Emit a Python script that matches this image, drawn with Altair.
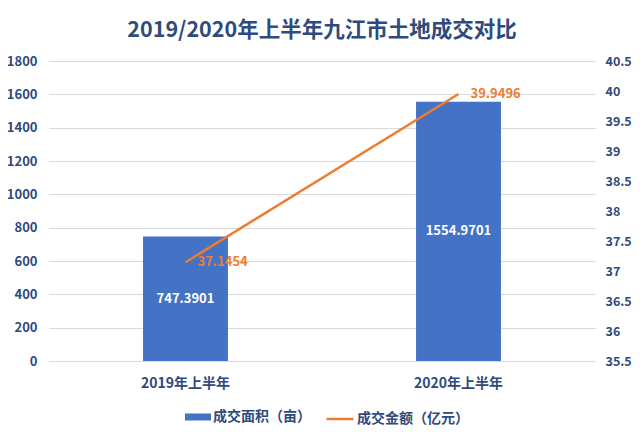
import altair as alt
import pandas as pd

title_text = "2019/2020年上半年九江市土地成交对比"
periods = ["2019年上半年", "2020年上半年"]
area_values = [747.3901, 1554.9701]
amount_values = [37.1454, 39.9496]
area_label = "成交面积（亩）"
amount_label = "成交金额（亿元）"
left_ticks = [0, 200, 400, 600, 800, 1000, 1200, 1400, 1600, 1800]
right_ticks = [35.5, 36, 36.5, 37, 37.5, 38, 38.5, 39, 39.5, 40, 40.5]

df = pd.DataFrame({
    "period": periods,
    "area": area_values,
    "amount": amount_values,
    "area_name": [area_label] * len(periods),
    "amount_name": [amount_label] * len(periods),
})

FONT = "Noto Sans CJK SC"
NAVY = "#2F4A7C"
BLUE = "#4472C4"
ORANGE = "#ED7D31"

x = alt.X(
    "period:N", sort=periods, title=None,
    scale=alt.Scale(paddingInner=0.689, paddingOuter=0.3445),
    axis=alt.Axis(labelAngle=0, labelFontSize=14, labelFontWeight="bold",
                  labelColor=NAVY, labelPadding=15, domain=False, ticks=False,
                  labelFont=FONT),
)

y_left_scale = alt.Scale(domain=[0, 1800], nice=False)
y_right_scale = alt.Scale(domain=[35.5, 40.5], nice=False)

left_axis = alt.Axis(values=left_ticks, tickCount=30, format="d", grid=True,
                     gridColor="#D9D9D9", domain=False, ticks=False,
                     labelPadding=12, labelFontSize=13,
                     labelFontWeight="bold", labelColor=NAVY,
                     labelFont=FONT, labelOverlap=False, labelBound=False)
right_axis = alt.Axis(orient="right", values=right_ticks, tickCount=30,
                      format="~g", grid=False, domain=False, ticks=False,
                      labelPadding=10, labelFontSize=12.5,
                      labelFontWeight="bold", labelColor=NAVY,
                      labelFont=FONT, labelOverlap=False, labelBound=False)

bars = alt.Chart(df).mark_bar(color=BLUE).encode(
    x=x,
    y=alt.Y("area:Q", scale=y_left_scale, title=None, axis=left_axis),
    color=alt.Color("area_name:N", scale=alt.Scale(range=[BLUE]),
                    legend=alt.Legend(title=None, orient="none", legendX=136,
                                      legendY=343,
                                      symbolType="M-1,-0.27H1V0.27H-1Z",
                                      symbolSize=676, symbolStrokeWidth=0,
                                      labelFont=FONT, labelFontSize=14,
                                      labelFontWeight="bold", labelColor=NAVY,
                                      labelOffset=2, padding=0)),
)

bar_text = alt.Chart(df).transform_calculate(
    mid="datum.area / 2"
).mark_text(color="white", fontWeight="bold", fontSize=13, font=FONT,
            baseline="middle").encode(
    x=x,
    y=alt.Y("mid:Q", scale=y_left_scale, title=None, axis=left_axis),
    text=alt.Text("area:Q", format=".4f"),
)

line = alt.Chart(df).mark_line(strokeWidth=2.5).encode(
    x=x,
    y=alt.Y("amount:Q", scale=y_right_scale, title=None, axis=right_axis),
    color=alt.Color("amount_name:N", scale=alt.Scale(range=[ORANGE]),
                    legend=alt.Legend(title=None, orient="none", legendX=276,
                                      legendY=343, symbolType="stroke",
                                      symbolSize=729, symbolStrokeWidth=2.5,
                                      labelFont=FONT, labelFontSize=14,
                                      labelFontWeight="bold", labelColor=NAVY,
                                      labelOffset=2, padding=0)),
)

line_text = alt.Chart(df).mark_text(
    color=ORANGE, fontWeight="bold", fontSize=13, font=FONT,
    align="left", baseline="middle", dx=12
).encode(
    x=x,
    y=alt.Y("amount:Q", scale=y_right_scale, title=None, axis=right_axis),
    text=alt.Text("amount:Q", format=".4f"),
)

chart = alt.layer(
    alt.layer(bars, bar_text),
    alt.layer(line, line_text),
).resolve_scale(
    y="independent", color="independent"
).properties(
    width=546, height=300,
    title=alt.TitleParams(title_text, fontSize=21.5, font=FONT,
                          fontWeight="bold", color=NAVY, anchor="middle",
                          baseline="bottom", offset=22, dy=30),
    autosize=alt.AutoSizeParams(type="none"),
    padding={"left": 41, "top": 53, "right": 37, "bottom": 67},
).configure_view(strokeWidth=0)

chart.save("out.html", embed_options={"renderer": "svg", "actions": False})
